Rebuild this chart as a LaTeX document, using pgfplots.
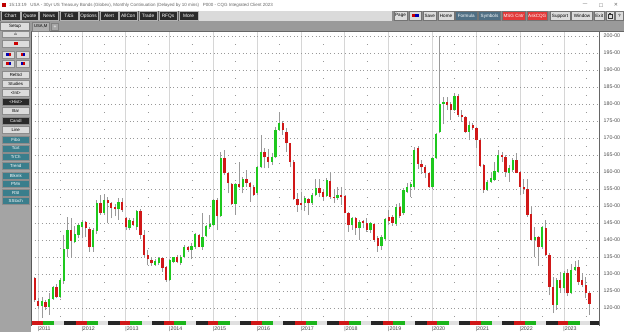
\documentclass[border=0pt]{standalone}
\usepackage{pgfplots}
\pgfplotsset{compat=1.18}
\usepackage{pgfplotstable}
\usepackage{fontspec}
\setmainfont{Liberation Sans}
\newfontfamily\dejavu{DejaVu Sans}
\definecolor{upc}{HTML}{1EC81E}
\definecolor{dnc}{HTML}{D01818}
\definecolor{wickc}{HTML}{9A9A9A}
\definecolor{panelc}{HTML}{A4A4A4}
\definecolor{btnl}{HTML}{DCDCDC}
\definecolor{btnd}{HTML}{2A2A2A}
\definecolor{tealc}{HTML}{3A7E8C}
\definecolor{slatec}{HTML}{4F6F84}
\definecolor{msgred}{HTML}{E43A3A}
\definecolor{tabrow}{HTML}{9A9A9A}
\definecolor{toolrow}{HTML}{DADADA}

\pgfplotstableread{
m o h l c
1 120.7 123.3 117.0 122.1
3 120.2 124.3 118.0 122.6
4 122.6 126.5 122.4 126.1
6 123.3 128.7 122.8 128.2
7 128.0 141.5 127.2 137.4
8 137.3 146.9 135.1 142.9
10 139.5 144.1 139.0 141.8
11 141.5 145.1 140.5 144.4
12 143.7 145.9 140.5 145.4
15 137.8 143.4 136.6 142.9
16 142.7 151.8 141.9 150.8
18 148.0 153.5 147.4 151.8
22 149.0 152.5 145.9 151.3
25 143.4 146.4 142.9 145.9
27 143.9 148.8 142.9 148.5
32 132.7 134.5 132.3 133.7
33 133.3 135.1 132.6 134.7
36 128.2 134.3 128.0 134.1
37 133.6 135.1 133.1 134.9
39 133.1 135.6 132.6 135.1
40 135.1 138.5 134.6 138.0
42 137.1 139.0 134.3 138.2
43 138.0 142.0 137.5 141.8
45 138.0 148.0 137.1 141.0
46 141.2 144.4 140.8 144.1
47 143.7 147.3 143.3 144.7
48 144.4 152.0 144.1 151.8
50 147.1 166.0 146.8 164.0
54 150.6 156.9 147.4 156.5
56 155.7 158.6 153.7 157.9
60 153.7 161.8 153.2 161.4
61 161.4 170.9 161.1 166.0
64 163.0 165.5 162.0 164.5
65 164.3 173.3 164.0 172.5
66 172.4 177.5 172.2 174.5
73 150.8 153.0 148.5 152.3
75 150.8 153.7 150.3 153.2
76 153.2 157.8 152.8 155.2
79 153.0 158.1 152.7 157.6
82 152.3 155.7 151.8 153.2
86 144.4 146.9 143.0 146.4
88 143.4 145.9 140.0 145.4
91 143.0 145.4 142.0 144.9
94 138.2 141.5 137.1 141.0
95 140.2 146.4 140.0 146.1
98 144.7 150.5 144.2 149.8
100 147.8 155.2 147.3 154.7
101 154.2 156.7 153.7 155.5
102 155.5 157.2 152.7 156.5
103 155.5 167.4 155.0 166.5
108 155.5 164.5 155.0 164.0
109 164.0 171.4 163.7 171.2
110 171.9 200.0 171.4 180.0
111 180.0 182.2 174.0 180.7
114 178.2 183.1 178.0 182.4
118 171.9 174.8 169.4 173.8
123 154.7 157.6 154.5 157.2
124 157.2 160.1 156.7 158.1
125 157.6 163.0 157.4 160.4
126 160.1 166.5 159.8 165.0
129 159.8 162.0 157.2 161.1
130 160.6 164.0 160.1 163.5
136 140.0 143.9 135.1 140.8
138 138.0 144.1 137.6 143.7
142 120.9 128.7 119.5 128.2
144 125.8 130.8 124.5 130.2
146 124.5 132.9 124.0 131.2
147 131.2 133.9 131.0 132.2
}\upT

\pgfplotstableread{
m o h l c
-1 128.7 129.2 121.9 122.4
0 122.2 122.8 119.6 120.7
2 121.9 122.4 119.4 120.2
5 126.3 127.2 122.8 123.3
9 142.9 146.4 135.1 139.8
13 145.4 145.7 140.8 143.4
14 143.1 143.7 136.6 137.8
17 150.8 153.2 147.4 148.0
19 151.8 152.7 144.9 150.8
20 150.8 151.3 146.4 149.3
21 149.6 150.5 147.0 149.0
23 151.3 152.5 148.3 148.8
24 146.4 146.9 142.9 143.7
26 145.7 146.4 144.1 144.4
28 148.5 149.0 140.2 141.5
29 141.5 142.9 135.1 135.6
30 135.6 137.1 132.6 134.3
31 134.1 135.1 132.4 133.1
34 134.6 134.9 130.7 131.7
35 132.0 132.4 127.7 128.2
38 135.1 135.6 133.1 133.6
41 138.0 138.3 136.6 137.1
44 141.5 141.8 137.8 138.0
49 151.8 152.3 142.9 147.1
51 164.0 166.5 159.1 159.6
52 159.6 159.8 153.7 156.7
53 156.5 156.7 150.3 150.6
55 156.4 163.0 155.2 155.5
57 157.9 160.6 155.7 156.7
58 156.7 157.2 151.3 155.7
59 155.7 156.2 153.0 153.2
62 166.0 167.0 161.1 164.3
63 164.3 166.9 161.1 163.0
67 174.5 175.0 171.0 172.5
68 171.9 172.8 166.0 168.4
69 168.4 168.6 161.4 163.0
70 163.0 163.5 151.8 152.2
71 152.2 153.7 148.3 150.3
72 151.0 154.2 148.8 150.3
74 152.2 152.5 147.4 150.8
77 155.2 157.8 152.7 153.7
78 154.2 154.6 151.6 152.7
80 157.4 159.6 152.2 152.7
81 152.7 154.7 150.8 152.3
83 153.2 155.7 150.3 152.7
84 152.9 153.2 147.8 148.0
85 148.0 148.3 142.5 144.4
87 146.4 146.9 141.5 143.4
89 145.7 145.9 143.4 144.9
90 145.1 146.4 142.5 143.0
92 144.7 145.1 139.5 140.0
93 140.5 141.2 136.6 138.2
96 146.9 148.8 144.4 145.7
97 146.9 147.5 144.2 145.1
99 149.8 151.0 146.5 147.1
104 167.0 167.6 161.0 162.5
105 162.5 163.5 159.5 161.4
106 161.5 162.2 158.2 159.6
107 159.6 160.0 155.2 155.5
112 180.7 182.2 178.2 179.7
113 180.0 180.7 175.3 178.2
115 182.4 183.0 176.3 176.8
116 176.8 178.2 174.8 176.1
117 176.1 176.5 171.4 171.9
119 173.8 174.3 172.3 172.8
120 172.8 173.3 167.0 169.4
121 169.4 169.9 161.4 161.8
122 162.1 162.5 153.9 154.7
127 165.0 166.0 163.0 164.5
128 164.5 165.0 158.6 160.1
131 163.5 165.7 159.6 159.8
132 160.1 160.4 153.2 155.7
133 155.5 157.8 153.5 154.9
134 154.9 157.8 146.9 147.4
135 147.6 150.0 139.8 140.0
137 140.8 141.2 132.4 138.0
139 143.4 145.9 135.3 135.6
140 135.6 136.1 123.8 126.3
141 126.3 129.2 118.5 120.9
143 128.2 130.5 124.5 125.8
145 130.2 131.5 123.5 124.3
148 132.0 134.1 126.8 127.7
149 128.2 130.2 126.1 126.8
150 126.8 129.2 122.8 124.3
151 124.5 124.8 118.0 121.3
}\dnT

\newcommand{\tb}[4]{% x1 x2 label fill ; dark buttons
  \fill[#4,draw=black!30,line width=0.4bp] (#1,11.4) rectangle (#2,20.4);
  \node[text=white,font=\fontsize{4.8}{5}\selectfont,inner sep=0pt] at ({(#1+#2)/2},15.9) {#3};}
\newcommand{\lb}[5]{% x1 x2 label fill textcolor (tool row)
  \fill[#4,draw=black!55,line width=0.4bp] (#1,11.4) rectangle (#2,20.4);
  \node[text=#5,font=\fontsize{4.6}{5}\selectfont,inner sep=0pt] at ({(#1+#2)/2},15.9) {#3};}
\newcommand{\pb}[5]{% y1 y2 label fill textcolor (left panel)
  \fill[#4,draw=black!45,line width=0.4bp] (2,#1) rectangle (29.5,#2);
  \node[text=#5,font=\fontsize{4.4}{5}\selectfont,inner sep=0pt] at (15.75,{(#1+#2)/2}) {#3};}

\begin{document}
\begin{tikzpicture}[x=1bp,y=1bp]
\fill[white] (0,0) rectangle (624,332);

\begin{axis}[
  at={(32bp,11bp)}, anchor=south west,
  scale only axis, width=567bp, height=289bp,
  xmin=-1.726, xmax=153.6, ymin=116.18, ymax=201.18,
  axis line style={draw=none},
  tick style={draw=none},
  xtick={0,12,...,144},
  xticklabels={\mbox{|2011},\mbox{|2012},\mbox{|2013},\mbox{|2014},\mbox{|2015},\mbox{|2016},\mbox{|2017},\mbox{|2018},\mbox{|2019},\mbox{|2020},\mbox{|2021},\mbox{|2022},\mbox{|2023}},
  xticklabel style={anchor=north west, inner sep=0pt, xshift=-0.7bp, yshift=-5.2bp, font=\fontsize{5.3}{6}\selectfont, text=black!75},
  ytick={120,125,...,200},
  yticklabels={\mbox{120-00},\mbox{125-00},\mbox{130-00},\mbox{135-00},\mbox{140-00},\mbox{145-00},\mbox{150-00},\mbox{155-00},\mbox{160-00},\mbox{165-00},\mbox{170-00},\mbox{175-00},\mbox{180-00},\mbox{185-00},\mbox{190-00},\mbox{195-00},\mbox{200-00}},
  yticklabel pos=right,
  yticklabel style={anchor=west, inner sep=0pt, xshift=4.5bp, font=\fontsize{5.3}{6}\selectfont, text=black!70},
  minor ytick={117.5,122.5,...,197.5},
  xmajorgrids, ymajorgrids, yminorgrids,
  major x grid style={draw=black!16, line width=0.9bp, solid},
  major y grid style={draw=black!40, line width=0.8bp, dash pattern=on 0.8bp off 2.85bp, dash phase=1bp},
  minor y grid style={draw=black!40, line width=0.8bp, dash pattern=on 0.8bp off 43bp, dash phase=15.6bp},
]
% wicks
\addplot[draw=wickc, line width=0.8bp, mark=none, forget plot,
  quiver={u=0, v=\thisrow{h}-\thisrow{l}}] table[x=m, y=l] {\upT};
\addplot[draw=wickc, line width=0.8bp, mark=none, forget plot,
  quiver={u=0, v=\thisrow{h}-\thisrow{l}}] table[x=m, y=l] {\dnT};
% bodies
\addplot[draw=upc, line width=2.3bp, mark=none, forget plot,
  quiver={u=0, v=\thisrow{c}-\thisrow{o}}] table[x=m, y=o] {\upT};
\addplot[draw=dnc, line width=2.3bp, mark=none, forget plot,
  quiver={u=0, v=\thisrow{o}-\thisrow{c}}] table[x=m, y=c] {\dnT};
% last price box
\node[fill=black, text=white, inner sep=0.6bp, anchor=west, font=\fontsize{5}{5}\selectfont, minimum width=24bp, minimum height=5.5bp] at (axis cs:153.6,121.5) {121-10};
\end{axis}

\begin{scope}[shift={(0bp,332bp)}, y=-1bp]
% time bar
\begin{scope}
\clip (32,321) rectangle (599,325);
\foreach \k in {-1,...,13}{
  \pgfmathsetmacro{\xs}{38.3+43.8*\k}
  \fill[dnc] (\xs-6,321.3) rectangle (\xs+4.5,324.7);
  \fill[upc!90!black] (\xs+4.5,321.3) rectangle (\xs+16,324.7);
  \fill[black!12] (\xs+16,321.3) rectangle (\xs+26,324.7);
  \fill[black!85] (\xs+26,321.3) rectangle (\xs+37.8,324.7);
}
\end{scope}
% chart borders
\draw[black!65, line width=1.2bp] (31.4,31.5) -- (31.4,325.5);
\draw[black!60, line width=1.2bp] (599.6,31.5) -- (599.6,325.5);
\draw[black!60, line width=0.8bp] (31,31.6) -- (624,31.6);
% title bar
\fill[white] (0,0) rectangle (624,10.6);
\fill[red!75!black] (2.2,3) rectangle (6.2,7);
\node[anchor=west, inner sep=0pt, text=black!60, font=\fontsize{4.5}{5}\selectfont] at (9,5.2) {15:13:19 \ \ USA - 30yr US Treasury Bonds (Globex), Monthly Continuation (Delayed by 10 mins) \ \ P000 - CQG Integrated Client 2023};
\node[inner sep=0pt, text=black!60, font=\dejavu\fontsize{5}{5}\selectfont] at (585,5.2) {—};
\node[inner sep=0pt, text=black!60, font=\dejavu\fontsize{5}{5}\selectfont] at (601,5.2) {☐};
\node[inner sep=0pt, text=black!60, font=\dejavu\fontsize{5}{5}\selectfont] at (616,5.2) {✕};
% tool row
\fill[toolrow] (0,10.6) rectangle (624,21.2);
\fill[black!62] (0,10.6) rectangle (199,21.2);
\tb{1}{20}{Chart}{btnd}
\tb{21}{38.5}{Quote}{btnd}
\tb{39.5}{58.5}{News}{btnd}
\tb{60}{78}{T\&S}{btnd}
\tb{79}{98}{Options}{btnd}
\tb{100}{118}{Alert}{btnd}
\tb{119}{137.5}{AllCon}{btnd}
\tb{139}{157}{Trade}{btnd}
\tb{159}{177}{RFQs}{btnd}
\tb{179}{198}{More}{btnd}
\fill[black!45] (392,10.6) rectangle (624,21.2);
\lb{394}{407}{Page}{btnl}{black}
\lb{409}{421}{}{btnl}{black}
\fill[red!80!black] (411.5,14.5) rectangle (414.5,17.3);
\fill[blue!70!black] (415,14.5) rectangle (418.5,17.3);
\lb{423}{436.5}{Save}{btnl}{black}
\lb{438}{454}{Home}{btnl}{black}
\lb{455.5}{477}{Formula}{slatec}{white}
\lb{478.5}{500.5}{Symbols}{slatec}{white}
\lb{502}{525.5}{MSG Cntr}{msgred}{white}
\lb{527}{547.5}{AskCQG}{msgred}{white}
\lb{550}{570}{Support}{btnl}{black}
\lb{571.5}{592.5}{Window}{btnl}{black}
\lb{594}{604.5}{Exit}{btnl}{black}
\lb{606}{614}{}{btnl}{black}
\draw[black!80, line width=0.5bp] (608,14) rectangle (612,18.2);
\draw[black!80, line width=0.5bp] (609,13.2) -- (611,13.2);
\lb{615.5}{623.5}{?}{btnl}{black}
% tab row
\fill[tabrow] (0,21.2) rectangle (624,31.2);
\fill[btnl, draw=black!50, line width=0.4bp] (0.5,22.5) rectangle (29.5,30.5);
\node[inner sep=0pt, font=\fontsize{4.6}{5}\selectfont] at (15,26.5) {Setup};
\fill[black!20!btnl, draw=black!50, line width=0.4bp] (32,22.5) rectangle (49.5,31);
\node[inner sep=0pt, font=\fontsize{4.2}{5}\selectfont] at (40.7,26.7) {USA,M};
\fill[black!35, draw=black!50, line width=0.4bp] (51.5,23.5) rectangle (58.5,30);
\node[inner sep=0pt, text=white, font=\fontsize{5}{5}\selectfont] at (55,26.7) {+};
% left panel
\fill[panelc] (0,31.2) rectangle (30.8,332);
\pb{31.5}{37.5}{\dejavu\fontsize{4}{4}\selectfont ⌂}{btnl}{black}
\pb{40}{47}{}{btnl}{black}
\fill[red!80!black] (14,41.8) rectangle (17.5,45.2);
\fill[btnl,draw=black!45,line width=0.4bp] (2,51) rectangle (14.5,58);
\fill[btnl,draw=black!45,line width=0.4bp] (16.5,51) rectangle (29.5,58);
\fill[btnl,draw=black!45,line width=0.4bp] (2,60.5) rectangle (14.5,67.5);
\fill[btnl,draw=black!45,line width=0.4bp] (16.5,60.5) rectangle (29.5,67.5);
\fill[blue!70!black] (6,53) rectangle (8.5,56); \fill[red!80!black] (8.5,53) rectangle (10.5,56);
\fill[red!80!black] (20.5,53) rectangle (23,56); \fill[blue!70!black] (23,53) rectangle (25,56);
\fill[red!80!black] (6,62.5) rectangle (8.5,65.5); \fill[blue!70!black] (8.5,62.5) rectangle (10.5,65.5);
\fill[blue!70!black] (20.5,62.5) rectangle (23,65.5); \fill[red!80!black] (23,62.5) rectangle (25,65.5);
\pb{71.5}{78.5}{RelSd}{btnl}{black}
\pb{80}{87}{Studies}{btnl}{black}
\pb{89.5}{96.5}{<Int>}{btnl}{black}
\pb{98}{105}{<Hist>}{btnd}{white}
\pb{107.5}{114.5}{Bar}{btnl}{black}
\pb{117}{124}{Candl}{btnd}{white}
\pb{126.5}{133.5}{Line}{btnl}{black}
\pb{136.5}{143.5}{Fibo}{tealc}{white}
\pb{145}{152}{Tcxt}{tealc}{white}
\pb{153.5}{160.5}{TrCh}{tealc}{white}
\pb{162}{169}{Trend}{tealc}{white}
\pb{172}{179}{Blkmk}{tealc}{white}
\pb{180.5}{187.5}{PMn}{tealc}{white}
\pb{189}{196}{RSI}{tealc}{white}
\pb{197.5}{204.5}{SStoch}{tealc}{white}
\end{scope}
\pgfresetboundingbox
\path[use as bounding box] (0,0) rectangle (624,332);
\end{tikzpicture}
\end{document}
